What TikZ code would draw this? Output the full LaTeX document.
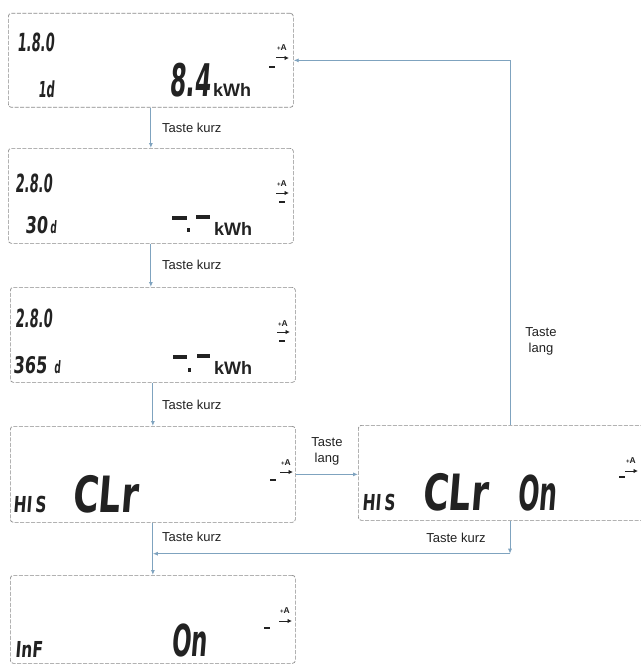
\documentclass[tikz,border=0pt]{standalone}
\usepackage{fontspec}
\setmainfont{Liberation Sans}
\newfontfamily\lcd{DejaVu Sans}[FakeStretch=0.52,FakeSlant=0.08]
\newfontfamily\lcdw{DejaVu Sans}[FakeStretch=0.7,FakeSlant=0.08]
\usetikzlibrary{arrows.meta,calc}
\definecolor{conncol}{HTML}{7FA3BF}
\definecolor{boxcol}{HTML}{8A8A8A}
\definecolor{ink}{HTML}{222222}
\tikzset{
  lcdbox/.style={draw=boxcol, dash pattern=on 4pt off 1.5pt, line width=0.7pt, rounded corners=3pt,
    anchor=north west, inner sep=0pt, minimum width=285pt},
  conn/.style={draw=conncol, line width=0.9pt, -{Latex[length=5pt,width=4pt]}},
  lbl/.style={font=\fontsize{13}{16}\selectfont, inner sep=0pt, text=ink, align=center},
  seg/.style={inner sep=0pt, anchor=base west, text=ink},
  indA/.style={inner sep=0pt, text=ink, font=\bfseries\fontsize{8.5}{8.5}\selectfont},
  indarr/.style={draw=ink, line width=1pt, -{Latex[length=4.5pt,width=4.5pt]}},
  inddash/.style={draw=ink, line width=1.8pt},
}
\newcommand\indic[6]{%
  \node[indA] (#1) at (#2,#3) {{\fontsize{6}{6}\selectfont+}A};
  \draw[indarr] ({#2-6},#4) -- ({#2+7},#4);
  \draw[inddash] ({#5-3},#6) -- ({#5+3},#6);}
\begin{document}
\begin{tikzpicture}[x=1pt,y=-1pt]
\useasboundingbox (0,0) rectangle (640,666);
\fill[white] (0,0) rectangle (640,666);

% display boxes
\node[lcdbox, minimum height=94pt] (b1) at (8,13) {};
\node[lcdbox, minimum height=95pt] (b2) at (8,148) {};
\node[lcdbox, minimum height=95pt] (b3) at (10,287) {};
\node[lcdbox, minimum height=96pt] (b4) at (10,426) {};
\node[lcdbox, minimum height=88pt] (b5) at (10,575) {};
\node[lcdbox, minimum height=95pt, minimum width=300pt] (br) at (358,425) {};

% box 1
\node[seg, font=\lcd\bfseries\fontsize{25}{25}\selectfont] (t1a) at (17,52) {1.8.0};
\node[seg, font=\lcd\bfseries\fontsize{22}{22}\selectfont] (t1b) at (38,98) {1d};
\node[seg, font=\lcd\bfseries\fontsize{45}{45}\selectfont] (t1c) at (169,97) {8.4};
\node[seg, font=\bfseries\fontsize{18}{18}\selectfont] (t1d) at (213,97) {kWh};
\indic{i1}{282}{48}{58}{272}{67}

% box 2
\node[seg, font=\lcd\bfseries\fontsize{25}{25}\selectfont] (t2a) at (15,192) {2.8.0};
\node[seg, font=\lcdw\bfseries\fontsize{23}{23}\selectfont] (t2b) at (25,233) {30};
\node[seg, font=\lcd\bfseries\fontsize{17}{17}\selectfont] (t2c) at (50,233) {d};
\fill[ink] (172,215.5) rectangle (187,219.5);
\fill[ink] (196,214.5) rectangle (210,218.5);
\fill[ink] (186.5,228) rectangle (190,232);
\node[seg, font=\bfseries\fontsize{18}{18}\selectfont] (t2d) at (214,235) {kWh};
\indic{i2}{282}{184}{193}{282}{202}

% box 3
\node[seg, font=\lcd\bfseries\fontsize{25}{25}\selectfont] (t3a) at (15,327) {2.8.0};
\node[seg, font=\lcdw\bfseries\fontsize{23}{23}\selectfont] (t3b) at (13,373) {365};
\node[seg, font=\lcd\bfseries\fontsize{17}{17}\selectfont] (t3c) at (54,373) {d};
\fill[ink] (173,355) rectangle (187,359);
\fill[ink] (197,354) rectangle (210,358);
\fill[ink] (187.5,368) rectangle (191,372);
\node[seg, font=\bfseries\fontsize{18}{18}\selectfont] (t3d) at (214,374) {kWh};
\indic{i3}{283}{324}{332}{282}{341}

% box 4
\node[seg, font=\lcdw\bfseries\fontsize{22}{22}\selectfont] (t4a) at (13,512) {HI\hspace{3pt}S};
\node[seg, font=\lcdw\bfseries\fontsize{50}{50}\selectfont] (t4b) at (72,512) {CLr};
\indic{i4}{286}{463}{472}{273}{480}

% box 5
\node[seg, font=\lcdw\bfseries\fontsize{22}{22}\selectfont] (t5a) at (15,657) {InF};
\node[seg, font=\lcd\bfseries\fontsize{44}{44}\selectfont] (t5b) at (171,656) {On};
\indic{i5}{285}{611}{621}{267}{628}

% right box
\node[seg, font=\lcdw\bfseries\fontsize{22}{22}\selectfont] (tra) at (362,510) {HI\hspace{3pt}S};
\node[seg, font=\lcdw\bfseries\fontsize{50}{50}\selectfont] (trb) at (422,510) {CLr};
\node[seg, font=\lcd\bfseries\fontsize{48}{48}\selectfont] (trc) at (517,510) {On};
\indic{ir}{631}{461}{471}{622}{477}

% connectors
\coordinate (ux) at (510,400);
\coordinate (j) at ($(b4.south)+(0,31)$);
\draw[conn] (b1.south) -- (b1.south |- b2.north);
\draw[conn] (b2.south) -- (b2.south |- b3.north);
\draw[conn] (b3.south) -- (b3.south |- b4.north);
\draw[conn] (b4.south) -- (b5.north);
\draw[conn] (b4.east) -- (b4.east -| br.west);
\draw[conn] (br.north -| ux) |- (b1.east);
\draw[conn] (br.south -| ux) -- (ux |- j);
\draw[conn] (ux |- j) -- (j);

% labels
\node[lbl, anchor=west] (l1) at (162,128) {Taste kurz};
\node[lbl, anchor=west] (l2) at (162,265) {Taste kurz};
\node[lbl, anchor=west] (l3) at (162,405) {Taste kurz};
\node[lbl, anchor=west] (l4) at (162,537) {Taste kurz};
\node[lbl] (l5) at (456,538) {Taste kurz};
\node[lbl] (l6) at (327,451) {Taste\\lang};
\node[lbl] (l7) at (541,341) {Taste\\lang};
\end{tikzpicture}
\end{document}
